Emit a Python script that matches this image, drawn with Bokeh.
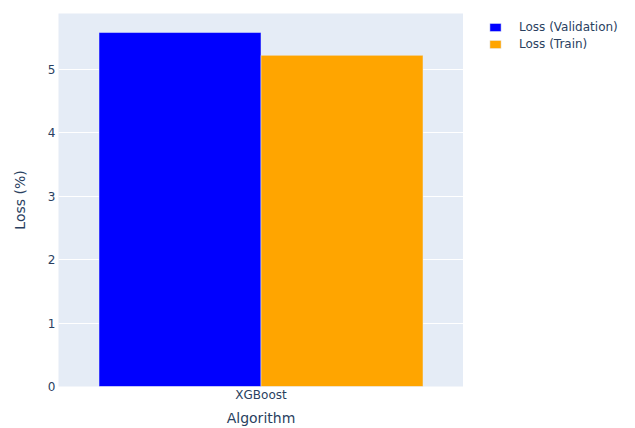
from bokeh.plotting import figure
from bokeh.models import ColumnDataSource, Legend, LegendItem, FactorRange, Range1d
from bokeh.transform import dodge
from bokeh.layouts import row
from bokeh.embed import file_html
from bokeh.resources import INLINE

algorithms = ["XGBoost"]
loss_validation = [5.58]
loss_train = [5.22]
y_ticks = [0, 1, 2, 3, 4, 5]
series_names = ["Loss (Validation)", "Loss (Train)"]
series_colors = ["#0000FF", "#FFA500"]

source = ColumnDataSource(dict(alg=algorithms, val=loss_validation, train=loss_train))

FONT = "DejaVu Sans"
TXT = "#2a3f5f"

p = figure(width=463, height=428, x_range=FactorRange(*algorithms, range_padding=0),
           y_range=(0, 5.88), output_backend="svg", toolbar_location=None,
           min_border_left=58, min_border_right=0, min_border_top=13, min_border_bottom=41)
p.background_fill_color = "#E5ECF6"
p.border_fill_color = "white"
p.outline_line_color = None

r1 = p.vbar(x=dodge("alg", -0.2, range=p.x_range), top="val", width=0.4, source=source,
            fill_color=series_colors[0], line_color="#E5ECF6", line_width=0.5)
r2 = p.vbar(x=dodge("alg", 0.2, range=p.x_range), top="train", width=0.4, source=source,
            fill_color=series_colors[1], line_color="#E5ECF6", line_width=0.5)

p.xgrid.grid_line_color = None
p.ygrid.grid_line_color = "white"
p.ygrid.grid_line_width = 1
p.yaxis.ticker = y_ticks

for ax in (p.xaxis[0], p.yaxis[0]):
    ax.axis_line_color = None
    ax.major_tick_line_color = None
    ax.minor_tick_line_color = None
    ax.major_tick_out = 0
    ax.major_tick_in = 0
    ax.minor_tick_out = 0
    ax.major_label_text_font = FONT
    ax.major_label_text_font_size = "12px"
    ax.major_label_text_color = TXT
    ax.axis_label_text_font = FONT
    ax.axis_label_text_font_size = "14px"
    ax.axis_label_text_color = TXT
    ax.axis_label_text_font_style = "normal"

p.xaxis.axis_label = "Algorithm"
p.yaxis.axis_label = "Loss (%)"
p.xaxis.major_label_standoff = 1
p.xaxis.axis_label_standoff = 5
p.yaxis.major_label_standoff = 3
p.yaxis.axis_label_standoff = 17

# legend panel to the right of the plotting area
q = figure(width=172, height=428, x_range=Range1d(0, 1), y_range=Range1d(0, 1),
           output_backend="svg", toolbar_location=None, x_axis_location=None,
           y_axis_location=None, min_border_left=20, min_border_top=13,
           min_border_right=0, min_border_bottom=0)
q.outline_line_color = None
q.grid.visible = False
q.background_fill_color = "white"
q.border_fill_color = "white"
lr1 = q.vbar(x=[5], top=[5], width=0.1, fill_color=series_colors[0], line_color="#E5ECF6", line_width=0.5)
lr2 = q.vbar(x=[5], top=[5], width=0.1, fill_color=series_colors[1], line_color="#E5ECF6", line_width=0.5)

legend = Legend(items=[LegendItem(label=series_names[0], renderers=[lr1]),
                       LegendItem(label=series_names[1], renderers=[lr2])],
                location="top_left", margin=5, padding=4, spacing=0,
                glyph_width=14, glyph_height=10, label_height=17, label_standoff=17,
                label_text_font=FONT, label_text_font_size="12px", label_text_color=TXT,
                border_line_color=None, background_fill_alpha=0)
q.add_layout(legend, "center")

layout = row(p, q)
open("out.html", "w").write(file_html(layout, INLINE))
